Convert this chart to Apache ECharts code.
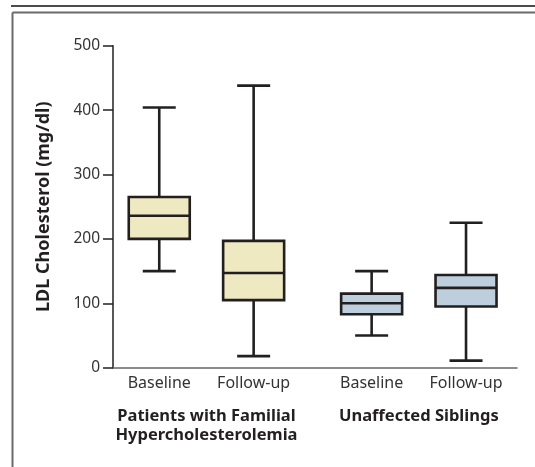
<!DOCTYPE html>
<html lang="en">
<head>
    <meta charset="UTF-8">
    <title>LDL Cholesterol</title>
    <style>
        html, body {margin: 0; padding: 0; background: #fff;}
    </style>
</head>
<body>
<div id="container" style="width: 535px; height: 467px"></div>
<script type="text/javascript" src="https://cdn.jsdelivr.net/npm/echarts@6/dist/echarts.min.js"></script>
<script type="text/javascript">
    // box stats: min, q1, median, q3, max (mg/dl)
    var groups = ['Patients with Familial\nHypercholesterolemia', 'Unaffected Siblings'];
    var visits = ['Baseline', 'Follow-up'];
    var hypercholMin = [150, 18];
    var hypercholQ1 = [200, 105];
    var hypercholMedian = [236, 147];
    var hypercholQ3 = [265, 197];
    var hypercholMax = [404, 438];
    var siblingsMin = [50, 11];
    var siblingsQ1 = [83, 95];
    var siblingsMedian = [100, 124];
    var siblingsQ3 = [115, 144];
    var siblingsMax = [150, 225];
    var yTicks = [0, 100, 200, 300, 400, 500];

    var fills = ['#eee9c1', '#bdcfdc'];
    var groupGap = 0.25;

    var stats = [
        [hypercholMin, hypercholQ1, hypercholMedian, hypercholQ3, hypercholMax],
        [siblingsMin, siblingsQ1, siblingsMedian, siblingsQ3, siblingsMax]
    ];

    var boxData = [];
    var labelPos = [];
    var groupPos = [];
    groups.forEach(function (g, gi) {
        var s = stats[gi];
        var sum = 0;
        visits.forEach(function (v, vi) {
            var pos = gi * visits.length + vi + gi * groupGap;
            boxData.push([pos, s[0][vi], s[1][vi], s[2][vi], s[3][vi], s[4][vi], gi]);
            labelPos.push(pos);
            sum += pos;
        });
        groupPos.push(sum / visits.length);
    });

    function renderBox(params, api) {
        var x = api.value(0);
        var pMin = api.coord([x, api.value(1)]);
        var pQ1 = api.coord([x, api.value(2)]);
        var pMed = api.coord([x, api.value(3)]);
        var pQ3 = api.coord([x, api.value(4)]);
        var pMax = api.coord([x, api.value(5)]);
        var cx = pMin[0];
        var hb = 30.5, hc = 16.5;
        var ls = {stroke: '#231f20', lineWidth: 2.6};
        return {
            type: 'group',
            children: [
                {type: 'line', shape: {x1: cx, y1: pMax[1], x2: cx, y2: pQ3[1]}, style: ls},
                {type: 'line', shape: {x1: cx, y1: pQ1[1], x2: cx, y2: pMin[1]}, style: ls},
                {type: 'line', shape: {x1: cx - hc, y1: pMax[1], x2: cx + hc, y2: pMax[1]}, style: ls},
                {type: 'line', shape: {x1: cx - hc, y1: pMin[1], x2: cx + hc, y2: pMin[1]}, style: ls},
                {
                    type: 'rect',
                    shape: {x: cx - hb, y: pQ3[1], width: hb * 2, height: pQ1[1] - pQ3[1]},
                    style: {fill: fills[api.value(6)], stroke: '#231f20', lineWidth: 2.6}
                },
                {type: 'line', shape: {x1: cx - hb, y1: pMed[1], x2: cx + hb, y2: pMed[1]}, style: ls}
            ]
        };
    }

    var font = '"Noto Sans", "Open Sans", sans-serif';

    var option = {
        animation: false,
        textStyle: {fontFamily: font},
        graphic: [
            {type: 'line', shape: {x1: 11, y1: 6, x2: 535, y2: 6}, style: {stroke: '#111', lineWidth: 1.5}},
            {type: 'line', shape: {x1: 12.5, y1: 12.5, x2: 535, y2: 12.5}, style: {stroke: '#6b6b6b', lineWidth: 2}},
            {type: 'line', shape: {x1: 12.5, y1: 12.5, x2: 12.5, y2: 467}, style: {stroke: '#6b6b6b', lineWidth: 2}}
        ],
        grid: {left: 113, right: 18, top: 45.7, bottom: 99.3, containLabel: false},
        xAxis: [
            {
                type: 'value',
                min: -0.49,
                max: 3.79,
                splitLine: {show: false},
                axisLine: {show: true, onZero: false, lineStyle: {color: '#666', width: 1.5}},
                axisTick: {show: false},
                axisLabel: {
                    customValues: labelPos,
                    margin: 8,
                    fontSize: 16,
                    color: '#333',
                    formatter: function (v) {
                        var i = labelPos.indexOf(v);
                        return i < 0 ? '' : visits[i % visits.length];
                    }
                }
            },
            {
                type: 'value',
                position: 'bottom',
                min: -0.49,
                max: 3.79,
                splitLine: {show: false},
                axisLine: {show: false, onZero: false},
                axisTick: {show: false},
                axisLabel: {
                    customValues: groupPos,
                    margin: 39,
                    fontSize: 16.5,
                    fontWeight: 'bold',
                    lineHeight: 19,
                    color: '#231f20',
                    formatter: function (v) {
                        var i = groupPos.indexOf(v);
                        return i < 0 ? '' : groups[i];
                    }
                }
            }
        ],
        yAxis: {
            type: 'value',
            min: yTicks[0],
            max: yTicks[yTicks.length - 1],
            interval: 100,
            name: 'LDL Cholesterol (mg/dl)',
            nameLocation: 'middle',
            nameGap: 60,
            nameTextStyle: {fontSize: 18, fontWeight: 'bold', color: '#231f20'},
            splitLine: {show: false},
            axisLine: {show: true, onZero: false, lineStyle: {color: '#231f20', width: 1.5}},
            axisTick: {show: true, length: 10, lineStyle: {color: '#231f20', width: 1.5}},
            axisLabel: {margin: 13, fontSize: 15.5, color: '#333'}
        },
        series: [
            {
                type: 'custom',
                renderItem: renderBox,
                encode: {x: 0, y: [1, 2, 3, 4, 5]},
                data: boxData
            }
        ]
    };

    var myChart = echarts.init(document.getElementById('container'));
    myChart.setOption(option);
</script>
</body>
</html>
